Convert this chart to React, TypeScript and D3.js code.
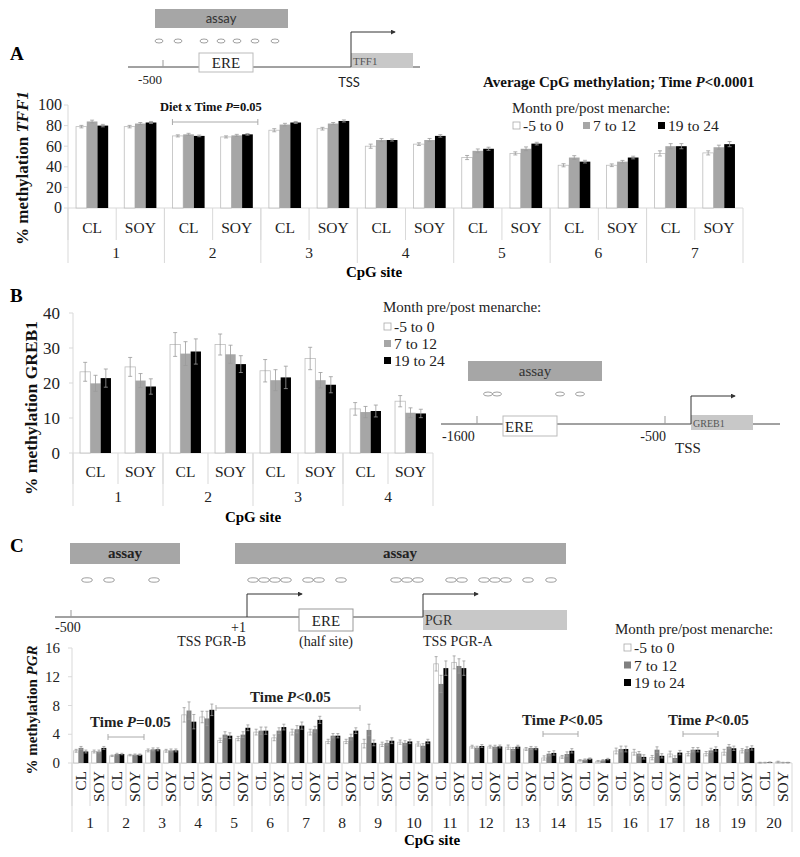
import * as d3 from "d3";

const groups = ["CL", "SOY"];
const periods = ["-5 to 0", "7 to 12", "19 to 24"];
const legendTitle = "Month pre/post menarche:";

// TFF1 (panel A), order: site1 CL, site1 SOY, site2 CL, ...
const tff1Sites = ["1", "2", "3", "4", "5", "6", "7"];
const tff1Pre = [79, 79, 70, 69, 75.5, 77, 60, 62, 49, 53, 41.5, 41.5, 53, 53.5];
const tff1Mid = [84, 82, 71.5, 70.5, 81, 82, 66, 66, 55.5, 57.5, 49, 45, 60, 59];
const tff1Post = [80, 83, 70, 71.5, 83, 84.5, 66, 70, 57.5, 62.5, 45, 49, 60, 62];
const tff1PreErr = [1.2, 1.2, 1, 1, 1.5, 1.3, 2, 1.3, 2, 1.5, 1.5, 1.3, 2.5, 2];
const tff1MidErr = [1.3, 1, 1, 1, 1.2, 1, 1.5, 1.5, 1.8, 1.8, 1.8, 1.2, 2.5, 2];
const tff1PostErr = [1.2, 1, 0.8, 0.8, 1, 1, 1, 1.2, 1.5, 1.3, 1.3, 1.3, 2.5, 2.5];

// GREB1 (panel B)
const grebSites = ["1", "2", "3", "4"];
const grebPre = [23.2, 24.6, 31, 31, 23.5, 27, 12.6, 14.8];
const grebMid = [19.9, 20.7, 28.4, 28.2, 20.8, 20.8, 11.7, 11.5];
const grebPost = [21.4, 19, 29, 25.4, 21.6, 19.5, 12, 11.3];
const grebPreErr = [2.7, 2.7, 3.4, 3, 3.2, 3.2, 1.8, 1.6];
const grebMidErr = [2.3, 2, 3.4, 2.6, 3, 2.2, 1.6, 1.4];
const grebPostErr = [2.6, 2.2, 3.6, 2.4, 3.2, 2.3, 1.7, 1.2];

// PGR (panel C)
const pgrSites = d3.range(1, 21).map(String);
const pgrPre = [1.7, 1.6, 1.0, 1.1, 1.75, 1.7, 6.7, 6.4, 3.15, 3.4, 4.3, 3.5, 4.3, 4.3, 3.0, 3.0, 2.7, 2.6, 2.9, 2.65,
  13.8, 14.0, 2.27, 2.27, 2.2, 1.95, 0.7, 0.85, 0.37, 0.25, 1.67, 1.5, 0.75, 1.25, 1.3, 1.3, 1.5, 1.7, 0.05, 0.15];
const pgrMid = [2.1, 1.6, 1.25, 1.15, 1.9, 1.75, 7.3, 6.2, 3.95, 3.95, 4.5, 4.5, 4.7, 4.7, 3.8, 3.6, 4.6, 2.8, 2.8, 2.4,
  11.0, 13.5, 2.13, 2.27, 1.95, 2.1, 1.3, 1.25, 0.46, 0.37, 1.95, 1.3, 1.85, 0.7, 1.85, 1.75, 2.27, 1.95, 0.05, 0.05];
const pgrPost = [1.6, 2.1, 1.25, 1.15, 1.9, 1.75, 5.75, 7.4, 3.8, 4.9, 4.5, 5.0, 5.2, 6.0, 3.8, 4.5, 2.8, 3.1, 3.0, 3.0,
  13.2, 13.2, 2.37, 2.3, 2.27, 2.05, 1.4, 1.7, 0.6, 0.55, 1.95, 0.85, 1.0, 1.45, 1.85, 1.95, 2.05, 2.1, 0.1, 0.05];
const pgrPreErr = [0.2, 0.2, 0.1, 0.1, 0.2, 0.2, 1.0, 0.8, 0.3, 0.3, 0.4, 0.4, 0.4, 0.4, 0.3, 0.3, 0.6, 0.3, 0.3, 0.3,
  1.0, 0.9, 0.2, 0.2, 0.3, 0.2, 0.3, 0.2, 0.1, 0.1, 0.4, 0.4, 0.3, 0.4, 0.3, 0.3, 0.4, 0.3, 0.05, 0.1];
const pgrMidErr = [0.2, 0.2, 0.1, 0.1, 0.2, 0.2, 1.2, 1.0, 0.4, 0.4, 0.5, 0.4, 0.5, 0.4, 0.3, 0.4, 0.8, 0.3, 0.3, 0.3,
  1.2, 1.0, 0.2, 0.2, 0.2, 0.2, 0.3, 0.3, 0.1, 0.1, 0.4, 0.3, 0.4, 0.3, 0.3, 0.3, 0.3, 0.3, 0.05, 0.05];
const pgrPostErr = [0.2, 0.2, 0.1, 0.1, 0.2, 0.2, 1.0, 0.8, 0.4, 0.4, 0.5, 0.4, 0.5, 0.5, 0.3, 0.4, 0.4, 0.4, 0.3, 0.3,
  1.0, 1.0, 0.2, 0.2, 0.2, 0.2, 0.3, 0.3, 0.1, 0.1, 0.4, 0.3, 0.3, 0.3, 0.3, 0.3, 0.3, 0.3, 0.05, 0.05];

const serif = "'Liberation Serif', 'Times New Roman', serif";
const sans = "Lato, 'Open Sans', sans-serif";
const axisGray = "#d9d9d9";
const errGray = "#9a9a9a";

type PanelProps = {
  sites: string[];
  values: number[][];
  errors: number[][];
  left: number;
  right: number;
  zeroY: number;
  topY: number;
  yMax: number;
  yStep: number;
  outerPad: number;
  fills: string[];
  rotateCats?: boolean;
  catY: number;
  siteY: number;
  catSepEnd: number;
  siteSepEnd: number;
  tickGap: number;
  tickFont: number;
  catFont: number;
  capW: number;
};

function BarPanel(p: PanelProps) {
  const cats = p.sites.flatMap((s) => groups.map((g) => `${s}|${g}`));
  const x = d3.scaleBand<string>().domain(cats).range([p.left, p.right]);
  const xs = d3.scaleBand<string>().domain(p.sites).range([p.left, p.right]);
  const xi = d3
    .scaleBand<string>()
    .domain(periods)
    .range([0, x.bandwidth()])
    .paddingInner(0)
    .paddingOuter(p.outerPad);
  const y = d3.scaleLinear().domain([0, p.yMax]).range([p.zeroY, p.topY]);
  const ticks = d3.range(0, p.yMax + 1e-9, p.yStep);

  return (
    <g>
      {/* y axis */}
      <line x1={p.left} x2={p.left} y1={p.topY} y2={p.zeroY} stroke={axisGray} />
      {ticks.map((t) => (
        <g key={t}>
          <line x1={p.left - 4} x2={p.left} y1={y(t)} y2={y(t)} stroke={axisGray} />
          <text
            x={p.left - p.tickGap}
            y={y(t)}
            dy="0.34em"
            textAnchor="end"
            fontFamily={serif}
            fontSize={p.tickFont}
            fill="#222"
          >
            {t}
          </text>
        </g>
      ))}
      {/* x axis and separators */}
      <line x1={p.left} x2={p.right} y1={p.zeroY} y2={p.zeroY} stroke={axisGray} />
      {cats.map((c) => (
        <line
          key={"cs" + c}
          x1={x(c)!}
          x2={x(c)!}
          y1={p.zeroY}
          y2={p.catSepEnd}
          stroke={axisGray}
        />
      ))}
      {[...p.sites.map((s) => xs(s)!), p.right].map((sx, i) => (
        <line key={"ss" + i} x1={sx} x2={sx} y1={p.zeroY} y2={p.siteSepEnd} stroke={axisGray} />
      ))}
      {/* bars */}
      {cats.map((c, i) =>
        periods.map((per, j) => {
          const v = p.values[j][i];
          const bx = x(c)! + xi(per)!;
          return (
            <rect
              key={c + per}
              x={bx}
              y={y(v)}
              width={xi.bandwidth()}
              height={p.zeroY - y(v)}
              fill={p.fills[j]}
              stroke={j === 0 ? "#bdbdbd" : "none"}
              strokeWidth={0.8}
            />
          );
        })
      )}
      {/* error bars */}
      {cats.map((c, i) =>
        periods.map((per, j) => {
          const v = p.values[j][i];
          const e = p.errors[j][i];
          const cx = x(c)! + xi(per)! + xi.bandwidth() / 2;
          return (
            <g key={"e" + c + per} stroke={errGray} strokeWidth={0.8}>
              <line x1={cx} x2={cx} y1={y(v + e)} y2={y(Math.max(0, v - e))} />
              <line x1={cx - p.capW / 2} x2={cx + p.capW / 2} y1={y(v + e)} y2={y(v + e)} />
              <line
                x1={cx - p.capW / 2}
                x2={cx + p.capW / 2}
                y1={y(Math.max(0, v - e))}
                y2={y(Math.max(0, v - e))}
              />
            </g>
          );
        })
      )}
      {/* category labels */}
      {cats.map((c) => {
        const cx = x(c)! + x.bandwidth() / 2;
        const label = c.split("|")[1];
        return p.rotateCats ? (
          <text
            key={"cl" + c}
            transform={`translate(${cx},${p.catY}) rotate(-90)`}
            dy="0.34em"
            textAnchor="end"
            fontFamily={serif}
            fontSize={p.catFont}
            fill="#222"
          >
            {label}
          </text>
        ) : (
          <text
            key={"cl" + c}
            x={cx}
            y={p.catY}
            textAnchor="middle"
            fontFamily={serif}
            fontSize={p.catFont}
            fill="#222"
          >
            {label}
          </text>
        );
      })}
      {p.sites.map((s) => (
        <text
          key={"sl" + s}
          x={xs(s)! + xs.bandwidth() / 2}
          y={p.siteY}
          textAnchor="middle"
          fontFamily={serif}
          fontSize={p.catFont}
          fill="#222"
        >
          {s}
        </text>
      ))}
    </g>
  );
}

function Legend({
  x,
  y,
  fills,
  offsets,
  rowY,
}: {
  x: number;
  y: number;
  fills: string[];
  offsets: number[][];
  rowY: number;
}) {
  return (
    <g>
      <text x={x} y={y} fontFamily={serif} fontSize={15} fill="#222">
        {legendTitle}
      </text>
      {periods.map((per, j) => {
        const [dx, dy] = offsets[j];
        return (
          <g key={per}>
            <rect
              x={x + dx + 1}
              y={rowY + dy - 9}
              width={7}
              height={7}
              fill={fills[j]}
              stroke={j === 0 ? "#aaa" : "none"}
              strokeWidth={0.8}
            />
            <text x={x + dx + 11} y={rowY + dy} fontFamily={serif} fontSize={15.5} fill="#222">
              {per}
            </text>
          </g>
        );
      })}
    </g>
  );
}

function Bracket({ x1, x2, y }: { x1: number; x2: number; y: number }) {
  return (
    <g stroke="#aaa" strokeWidth={1}>
      <line x1={x1} x2={x2} y1={y} y2={y} />
      <line x1={x1} x2={x1} y1={y - 3} y2={y + 3} />
      <line x1={x2} x2={x2} y1={y - 3} y2={y + 3} />
    </g>
  );
}

function TimeLabel({ x, y, sign }: { x: number; y: number; sign: string }) {
  return (
    <text x={x} y={y} fontFamily={serif} fontSize={15} fontWeight="bold" fill="#222">
      Time <tspan fontStyle="italic">P</tspan>
      {sign}
    </text>
  );
}

export default function App() {
  const fillsAB = ["#ffffff", "#a6a6a6", "#000000"];
  const fillsC = ["#ffffff", "#808080", "#000000"];

  // site scales used for the bracket annotations
  const aSite = d3.scaleBand<string>().domain(tff1Sites).range([68, 743]);
  const cSite = d3.scaleBand<string>().domain(pgrSites).range([72, 792]);

  return (
    <svg
      width={800}
      height={857}
      style={{ position: "absolute", left: 0, top: 0, background: "#fff" }}
    >
      <defs>
        <marker
          id="arr"
          viewBox="0 0 6 6"
          refX="5"
          refY="3"
          markerWidth="5"
          markerHeight="5"
          orient="auto"
        >
          <path d="M0,0 L6,3 L0,6 z" fill="#333" />
        </marker>
      </defs>
      <rect width={800} height={857} fill="#fff" />

      {/* ---------- Panel A ---------- */}
      <text x={10} y={60} fontFamily={serif} fontSize={19} fontWeight="bold">
        A
      </text>
      <g>
        <rect x={155} y={9} width={133} height={19} fill="#a6a6a6" />
        <text x={221} y={23} textAnchor="middle" fontFamily={sans} fontSize={13} fill="#333">
          assay
        </text>
        {[159, 178, 204, 221, 237, 255, 275].map((cx) => (
          <ellipse key={cx} cx={cx} cy={41} rx={4} ry={2} fill="none" stroke="#888" strokeWidth={0.8} />
        ))}
        <line x1={128} x2={420} y1={67} y2={67} stroke="#444" />
        <line x1={163} x2={163} y1={60} y2={67} stroke="#999" />
        <text x={150} y={84} textAnchor="middle" fontFamily={serif} fontSize={13} fill="#222">
          -500
        </text>
        <rect x={199} y={53} width={54} height={19} fill="#fff" stroke="#bbb" />
        <text x={226} y={68} textAnchor="middle" fontFamily={serif} fontSize={15} fill="#222">
          ERE
        </text>
        <rect x={351} y={53} width={62} height={15} fill="#c8c8c8" />
        <text x={353} y={65} fontFamily={serif} fontSize={11} fill="#555">
          TFF1
        </text>
        <path d="M351,67 V32 H395" fill="none" stroke="#333" markerEnd="url(#arr)" />
        <text x={349} y={87} textAnchor="middle" fontFamily={sans} fontSize={13} fill="#222">
          TSS
        </text>
      </g>
      <text x={483} y={87} fontFamily={serif} fontSize={15} fontWeight="bold" fill="#111">
        Average CpG methylation; Time <tspan fontStyle="italic">P</tspan>&lt;0.0001
      </text>
      <Legend x={512} y={113} rowY={131} fills={fillsAB} offsets={[[0, 0], [70, 0], [145, 0]]} />
      <text x={160} y={111} fontFamily={serif} fontSize={12.5} fontWeight="bold" fill="#111">
        Diet x Time <tspan fontStyle="italic">P</tspan>=0.05
      </text>
      <Bracket x1={aSite("2")! + 8} x2={aSite("2")! + aSite.bandwidth() - 3} y={122} />
      <BarPanel
        sites={tff1Sites}
        values={[tff1Pre, tff1Mid, tff1Post]}
        errors={[tff1PreErr, tff1MidErr, tff1PostErr]}
        left={68}
        right={743}
        zeroY={208}
        topY={105}
        yMax={100}
        yStep={20}
        outerPad={0.75}
        fills={fillsAB}
        catY={233}
        siteY={258}
        catSepEnd={240}
        siteSepEnd={263}
        tickGap={6}
        tickFont={16}
        catFont={15.5}
        capW={4}
      />
      <text
        transform="translate(28,168) rotate(-90)"
        textAnchor="middle"
        fontFamily={serif}
        fontSize={17}
        fontWeight="bold"
        fill="#111"
      >
        % methylation <tspan fontStyle="italic">TFF1</tspan>
      </text>
      <text x={374} y={277} textAnchor="middle" fontFamily={serif} fontSize={15} fontWeight="bold">
        CpG site
      </text>

      {/* ---------- Panel B ---------- */}
      <text x={10} y={302} fontFamily={serif} fontSize={19} fontWeight="bold">
        B
      </text>
      <BarPanel
        sites={grebSites}
        values={[grebPre, grebMid, grebPost]}
        errors={[grebPreErr, grebMidErr, grebPostErr]}
        left={73}
        right={433}
        zeroY={453}
        topY={313}
        yMax={40}
        yStep={10}
        outerPad={0.68}
        fills={fillsAB}
        catY={477}
        siteY={502}
        catSepEnd={484}
        siteSepEnd={506}
        tickGap={13}
        tickFont={17}
        catFont={15.5}
        capW={4}
      />
      <text
        transform="translate(37,408) rotate(-90)"
        textAnchor="middle"
        fontFamily={serif}
        fontSize={17.5}
        fontWeight="bold"
        fill="#111"
      >
        % methylation GREB1
      </text>
      <text x={253} y={522} textAnchor="middle" fontFamily={serif} fontSize={15} fontWeight="bold">
        CpG site
      </text>
      <Legend x={383} y={312} rowY={332} fills={fillsAB} offsets={[[0, 0], [0, 17], [0, 34]]} />
      <g>
        <rect x={468} y={361} width={134} height={20} fill="#a6a6a6" />
        <text x={535} y={376} textAnchor="middle" fontFamily={serif} fontSize={15} fill="#333">
          assay
        </text>
        {[488, 497, 560, 580].map((cx) => (
          <ellipse key={cx} cx={cx} cy={394} rx={4.5} ry={2} fill="none" stroke="#888" strokeWidth={0.8} />
        ))}
        <line x1={441} x2={780} y1={424} y2={424} stroke="#444" />
        <line x1={477} x2={477} y1={416} y2={424} stroke="#999" />
        <line x1={665} x2={665} y1={416} y2={424} stroke="#999" />
        <text x={442} y={441} fontFamily={serif} fontSize={14} fill="#222">
          -1600
        </text>
        <text x={666} y={441} textAnchor="end" fontFamily={serif} fontSize={14} fill="#222">
          -500
        </text>
        <rect x={503} y={416} width={54} height={20} fill="#fff" stroke="#bbb" />
        <text x={505} y={432} fontFamily={serif} fontSize={15} fill="#222">
          ERE
        </text>
        <rect x={691} y={415} width={62} height={15} fill="#c8c8c8" />
        <text x={693} y={427} fontFamily={serif} fontSize={10} fill="#555">
          GREB1
        </text>
        <path d="M691,424 V396 H735" fill="none" stroke="#333" markerEnd="url(#arr)" />
        <text x={688} y={453} textAnchor="middle" fontFamily={serif} fontSize={15} fill="#222">
          TSS
        </text>
      </g>

      {/* ---------- Panel C ---------- */}
      <text x={10} y={552} fontFamily={serif} fontSize={19} fontWeight="bold">
        C
      </text>
      <g>
        <rect x={70} y={543} width={110} height={21} fill="#a6a6a6" />
        <text x={125} y={558} textAnchor="middle" fontFamily={serif} fontSize={15} fontWeight="bold" fill="#222">
          assay
        </text>
        <rect x={235} y={543} width={331} height={21} fill="#a6a6a6" />
        <text x={400} y={558} textAnchor="middle" fontFamily={serif} fontSize={15} fontWeight="bold" fill="#222">
          assay
        </text>
        {[87, 109, 154, 253, 264, 275, 286, 308, 319, 341, 396, 407, 418, 451, 462, 484, 495, 506, 528, 551].map(
          (cx) => (
            <ellipse key={cx} cx={cx} cy={580} rx={5.3} ry={2.2} fill="none" stroke="#888" strokeWidth={0.8} />
          )
        )}
        <line x1={55} x2={423} y1={617} y2={617} stroke="#444" />
        <line x1={71} x2={71} y1={610} y2={617} stroke="#999" />
        <text x={55} y={632} fontFamily={serif} fontSize={14} fill="#222">
          -500
        </text>
        <text x={246} y={632} textAnchor="end" fontFamily={serif} fontSize={14} fill="#222">
          +1
        </text>
        <path d="M247,617 V594 H302" fill="none" stroke="#333" markerEnd="url(#arr)" />
        <text x={246} y={646} textAnchor="end" fontFamily={serif} fontSize={14} fill="#222">
          TSS PGR-B
        </text>
        <rect x={299} y={609} width={54} height={22} fill="#fff" stroke="#999" />
        <text x={326} y={626} textAnchor="middle" fontFamily={serif} fontSize={15} fill="#222">
          ERE
        </text>
        <text x={326} y={646} textAnchor="middle" fontFamily={serif} fontSize={14} fill="#222">
          (half site)
        </text>
        <rect x={423} y={610} width={144} height={20} fill="#c8c8c8" />
        <text x={425} y={625} fontFamily={serif} fontSize={14} fill="#333">
          PGR
        </text>
        <path d="M423,617 V594 H478" fill="none" stroke="#333" markerEnd="url(#arr)" />
        <text x={423} y={646} fontFamily={serif} fontSize={14} fill="#222">
          TSS PGR-A
        </text>
      </g>
      <Legend x={615} y={634} rowY={653} fills={fillsC} offsets={[[8, 0], [8, 17.5], [8, 35]]} />
      <BarPanel
        sites={pgrSites}
        values={[pgrPre, pgrMid, pgrPost]}
        errors={[pgrPreErr, pgrMidErr, pgrPostErr]}
        left={72}
        right={792}
        zeroY={763}
        topY={648}
        yMax={16}
        yStep={4}
        outerPad={0.35}
        fills={fillsC}
        rotateCats
        catY={771}
        siteY={828}
        catSepEnd={806}
        siteSepEnd={832}
        tickGap={12}
        tickFont={15}
        catFont={15.5}
        capW={3}
      />
      <TimeLabel x={90} y={727} sign="=0.05" />
      <Bracket x1={cSite("2")!} x2={cSite("2")! + cSite.bandwidth()} y={737} />
      <TimeLabel x={250} y={702} sign="<0.05" />
      <Bracket x1={cSite("5")!} x2={cSite("8")! + cSite.bandwidth()} y={708} />
      <TimeLabel x={522} y={725} sign="<0.05" />
      <Bracket x1={cSite("14")! + 3} x2={cSite("14")! + cSite.bandwidth() + 2} y={734} />
      <TimeLabel x={668} y={725} sign="<0.05" />
      <Bracket x1={cSite("18")! - 1} x2={cSite("18")! + cSite.bandwidth() - 2} y={734} />
      <text
        transform="translate(37,710) rotate(-90)"
        textAnchor="middle"
        fontFamily={serif}
        fontSize={15}
        fontWeight="bold"
        fill="#111"
      >
        % methylation <tspan fontStyle="italic">PGR</tspan>
      </text>
      <text x={432} y={845} textAnchor="middle" fontFamily={serif} fontSize={15} fontWeight="bold">
        CpG site
      </text>
    </svg>
  );
}
